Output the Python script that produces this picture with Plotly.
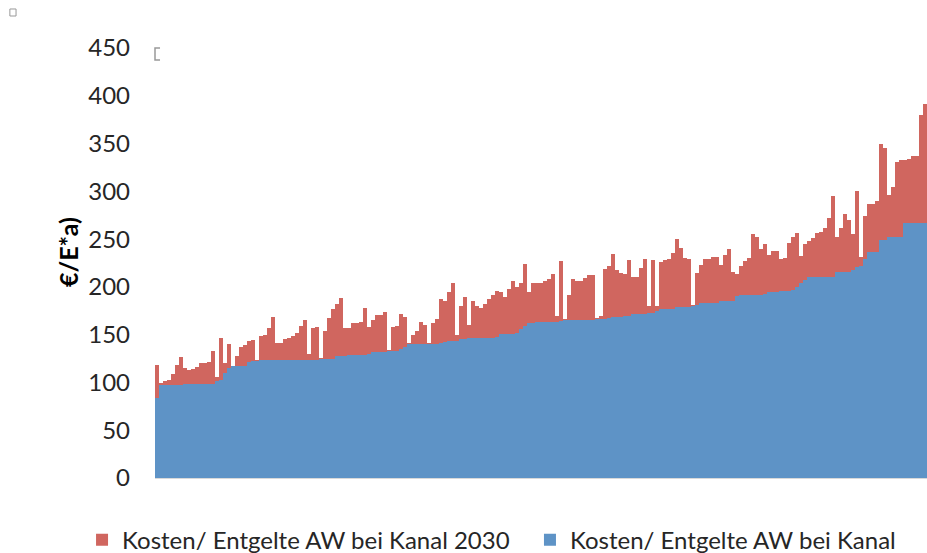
import plotly.graph_objects as go

# Kosten/ Entgelte AW bei Kanal (blue, base)
blue = [84, 97, 97, 97, 97, 97, 97, 98, 98, 98, 98, 98, 98, 98, 98, 102, 103, 110, 115, 117,
        117, 117, 117, 121, 122, 122, 123, 123, 123, 123, 123, 123, 123, 123, 123, 123, 123, 123, 124, 124,
        124, 125, 125, 125, 125, 128, 128, 128,
        129, 129, 129, 129, 129, 130, 132, 132, 132, 132, 133, 133, 133, 135, 137, 140, 140, 140, 140, 140,
        140, 140, 140, 141, 142, 143, 143, 143, 145, 145, 147, 147, 147, 147, 147, 147, 147, 148, 151, 151,
        151, 151, 152, 156, 159, 162, 162, 163,
        163, 163, 163, 163, 163, 164, 165, 165, 165, 165, 165, 165, 165, 165, 166, 166, 166, 167, 168, 168,
        169, 170, 170, 172, 172, 172, 172, 173, 173, 175, 177, 177, 177, 177, 179, 179, 179, 179, 180, 181,
        183, 183, 183, 183, 183, 185, 185, 185, 185,
        190, 191, 191, 191, 191, 192, 192, 193, 195, 195, 195, 196, 196, 196, 197, 200, 204, 207, 210, 210,
        210, 210, 210, 210, 210, 216, 216, 216, 216, 218, 221, 222, 229, 236, 236, 236, 249, 249, 252, 252,
        252, 252, 267, 267, 267, 267, 267, 267]

# Kosten/ Entgelte AW bei Kanal 2030 (red, total)
red = [118, 99, 101, 103, 109, 118, 127, 115, 113, 114, 116, 120, 120, 121, 133, 106, 146, 120, 140, 117,
       128, 137, 139, 143, 144, 123, 149, 150, 157, 168, 141, 141, 145, 147, 149, 152, 159, 165, 130, 157,
       158, 126, 154, 167, 177, 182, 188, 157,
       157, 162, 162, 163, 178, 158, 165, 171, 171, 174, 134, 158, 159, 172, 169, 141, 150, 154, 163, 160,
       141, 162, 166, 187, 185, 195, 204, 150, 180, 189, 160, 185, 180, 178, 182, 187, 191, 196, 195, 189,
       198, 206, 200, 204, 224, 195, 204, 204,
       204, 206, 208, 214, 170, 227, 166, 192, 208, 206, 206, 209, 212, 212, 167, 170, 219, 222, 234, 218,
       215, 214, 228, 210, 210, 220, 229, 180, 228, 180, 226, 228, 229, 235, 250, 241, 230, 229, 181, 215,
       223, 229, 229, 231, 231, 223, 233, 240, 216,
       214, 222, 227, 230, 255, 252, 240, 245, 233, 238, 238, 229, 230, 246, 252, 256, 232, 245, 248, 251,
       256, 257, 262, 272, 295, 252, 262, 276, 270, 255, 300, 231, 274, 287, 287, 290, 350, 345, 296, 305,
       331, 333, 333, 334, 337, 337, 380, 391]

y_ticks = [0, 50, 100, 150, 200, 250, 300, 350, 400, 450]
y_title = "€/E*a)"
name_red = "Kosten/ Entgelte AW bei Kanal 2030"
name_blue = "Kosten/ Entgelte AW bei Kanal"

x = list(range(len(blue)))

fig = go.Figure()
fig.add_trace(go.Bar(x=x, y=red, name=name_red, legend="legend",
                     marker=dict(color="#D0665F", line=dict(width=0))))
fig.add_trace(go.Bar(x=x, y=blue, name=name_blue, legend="legend2",
                     marker=dict(color="#5E93C6", line=dict(width=0))))

FONT = "Lato"
leg_common = dict(orientation="h", xref="container", yref="container", xanchor="left",
                  yanchor="top", y=0.064, bgcolor="rgba(0,0,0,0)",
                  font=dict(size=24, family=FONT, color="#262626"), itemwidth=30)

fig.update_layout(
    width=927, height=553,
    margin=dict(l=155, r=0, t=48, b=75, autoexpand=False),
    paper_bgcolor="white", plot_bgcolor="white",
    barmode="overlay", bargap=0,
    font=dict(family=FONT, color="#262626"),
    showlegend=True,
    legend=dict(x=0.0885, **leg_common),
    legend2=dict(x=0.5717, **leg_common),
    xaxis=dict(range=[-0.5, len(blue) - 0.5], showticklabels=False, ticks="",
               showgrid=False, zeroline=False, showline=True, linecolor="#d9d9d9", linewidth=1),
    yaxis=dict(range=[0, 450], tickvals=y_ticks, showgrid=False, zeroline=False, showline=False,
               ticks="", tickfont=dict(size=24, family=FONT, color="#262626"),
               ticklabelstandoff=24),
    annotations=[
        dict(text="<b>" + y_title + "</b>", xref="paper", yref="paper", x=-0.1127, y=0.5256,
             xanchor="center", yanchor="middle", textangle=-90, showarrow=False,
             font=dict(size=25, family=FONT, color="#000000")),
    ],
    shapes=[
        dict(type="rect", xref="paper", yref="paper", x0=-0.188, x1=-0.180,
             y0=1.0744, y1=1.0907, line=dict(color="#999999", width=1)),
        dict(type="path", xref="paper", yref="paper",
             path="M 0.0065 1.0 L 0.0 1.0 L 0.0 0.972 L 0.0065 0.972",
             line=dict(color="#999999", width=1.5)),
    ],
)

fig.write_html("out.html", config={"displayModeBar": False},
               post_script="document.body.style.margin='0';document.body.style.overflow='hidden';")
